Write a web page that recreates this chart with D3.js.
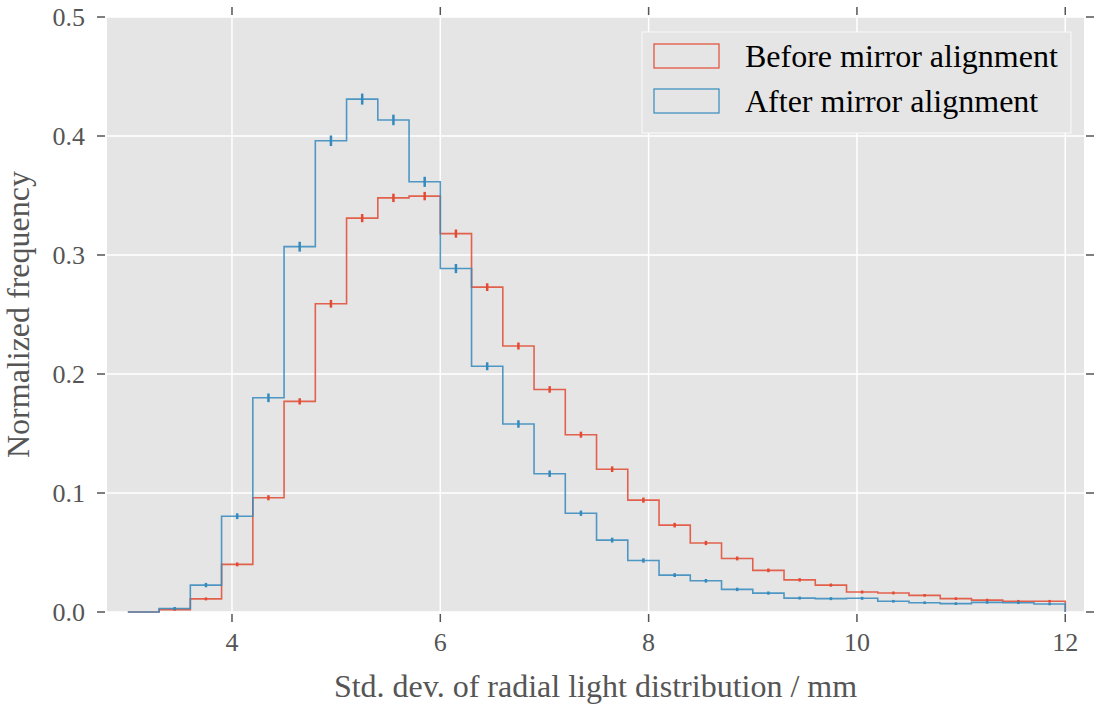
<!DOCTYPE html>
<html>
<head>
<meta charset="utf-8">
<script src="https://cdn.jsdelivr.net/npm/d3@7"></script>
<style>
    body { margin: 0; background: #fff; }
    text { font-family: "Liberation Serif", "DejaVu Serif", serif; }
</style>
</head>
<body>
<div id="chart"></div>
<script>
// Bin edges (left edge of each bin, width 0.3 mm)
const binEdges = [3.0, 3.3, 3.6, 3.9, 4.2, 4.5, 4.8, 5.1, 5.4, 5.7,
                  6.0, 6.3, 6.6, 6.9, 7.2, 7.5, 7.8, 8.1, 8.4, 8.7,
                  9.0, 9.3, 9.6, 9.9, 10.2, 10.5, 10.8, 11.1, 11.4, 11.7, 12.0];

// Normalized frequency per bin
const beforeValues = [0.000, 0.002, 0.011, 0.040, 0.096, 0.177, 0.259, 0.331, 0.348, 0.3495,
                      0.318, 0.273, 0.2235, 0.187, 0.149, 0.120, 0.094, 0.073, 0.058, 0.045,
                      0.035, 0.027, 0.0226, 0.0168, 0.016, 0.014, 0.0112, 0.010, 0.009, 0.009];
const afterValues = [0.000, 0.003, 0.0226, 0.0805, 0.180, 0.307, 0.396, 0.431, 0.4135, 0.3615,
                     0.2886, 0.2065, 0.158, 0.1162, 0.083, 0.0604, 0.0433, 0.031, 0.0262, 0.019,
                     0.0159, 0.0117, 0.0112, 0.0115, 0.009, 0.0078, 0.007, 0.0081, 0.0078, 0.0067];

// Statistical errors (half length of error bar)
const beforeErrors = [0, 0.0003, 0.0006, 0.0010, 0.0015, 0.0020, 0.0026, 0.0028, 0.0029, 0.0029,
                      0.0028, 0.0026, 0.0023, 0.0021, 0.0019, 0.0017, 0.0015, 0.0013, 0.0012, 0.0010,
                      0.0009, 0.0008, 0.0007, 0.0006, 0.0006, 0.0005, 0.0005, 0.0005, 0.0005, 0.0005];
const afterErrors = [0, 0.0006, 0.0012, 0.0018, 0.0030, 0.0035, 0.0038, 0.0040, 0.0038, 0.0036,
                     0.0032, 0.0027, 0.0025, 0.0021, 0.0016, 0.0014, 0.0012, 0.0010, 0.0009, 0.0008,
                     0.0007, 0.0006, 0.0006, 0.0006, 0.0005, 0.0005, 0.0005, 0.0005, 0.0005, 0.0004];

const xTicks = [4, 6, 8, 10, 12];
const yTicks = [0.0, 0.1, 0.2, 0.3, 0.4, 0.5];

const seriesNames = ["Before mirror alignment", "After mirror alignment"];
const seriesColors = ["#E24A33", "#348ABD"];

const width = 1096;
const height = 706;
const margin = { top: 17, right: 12, bottom: 94, left: 107 };
const innerW = width - margin.left - margin.right;
const innerH = height - margin.top - margin.bottom;

const svg = d3.select("#chart").append("svg")
    .attr("width", width)
    .attr("height", height);

const g = svg.append("g")
    .attr("transform", `translate(${margin.left},${margin.top})`);

const x = d3.scaleLinear().domain([2.8, 12.18]).range([0, innerW]);
const y = d3.scaleLinear().domain([0, 0.5]).range([innerH, 0]);

// Background
g.append("rect")
    .attr("width", innerW)
    .attr("height", innerH)
    .attr("fill", "#e5e5e5");

// Grid lines
g.selectAll(".xgrid")
    .data(xTicks)
    .enter()
    .append("line")
    .attr("x1", d => x(d)).attr("x2", d => x(d))
    .attr("y1", 0).attr("y2", innerH)
    .attr("stroke", "#fff")
    .attr("stroke-width", 1.5);

g.selectAll(".ygrid")
    .data(yTicks)
    .enter()
    .append("line")
    .attr("x1", 0).attr("x2", innerW)
    .attr("y1", d => y(d)).attr("y2", d => y(d))
    .attr("stroke", "#fff")
    .attr("stroke-width", 1.5);

// Ticks on all four sides, pointing outward
const tickColor = "#555";
const tickGap = 2, tickLen = 8;

g.selectAll(".tb")
    .data(xTicks)
    .enter()
    .append("line")
    .attr("x1", d => x(d)).attr("x2", d => x(d))
    .attr("y1", innerH + tickGap).attr("y2", innerH + tickGap + tickLen)
    .attr("stroke", tickColor).attr("stroke-width", 1.5);
g.selectAll(".tt")
    .data(xTicks)
    .enter()
    .append("line")
    .attr("x1", d => x(d)).attr("x2", d => x(d))
    .attr("y1", -tickGap).attr("y2", -tickGap - tickLen)
    .attr("stroke", tickColor).attr("stroke-width", 1.5);
g.selectAll(".tl")
    .data(yTicks)
    .enter()
    .append("line")
    .attr("x1", -tickGap).attr("x2", -tickGap - tickLen)
    .attr("y1", d => y(d)).attr("y2", d => y(d))
    .attr("stroke", tickColor).attr("stroke-width", 1.5);
g.selectAll(".tr")
    .data(yTicks)
    .enter()
    .append("line")
    .attr("x1", innerW + tickGap).attr("x2", innerW + tickGap + tickLen)
    .attr("y1", d => y(d)).attr("y2", d => y(d))
    .attr("stroke", tickColor).attr("stroke-width", 1.5);

// Tick labels
g.selectAll(".xlabel")
    .data(xTicks)
    .enter()
    .append("text")
    .attr("x", d => x(d))
    .attr("y", innerH + 39)
    .attr("text-anchor", "middle")
    .attr("font-size", 26)
    .attr("fill", tickColor)
    .text(d => d);

g.selectAll(".ylabel")
    .data(yTicks)
    .enter()
    .append("text")
    .attr("x", -22)
    .attr("y", d => y(d))
    .attr("dy", "0.35em")
    .attr("text-anchor", "end")
    .attr("font-size", 26)
    .attr("fill", tickColor)
    .text(d => d3.format(".1f")(d));

// Axis titles
g.append("text")
    .attr("x", innerW / 2)
    .attr("y", innerH + 85)
    .attr("text-anchor", "middle")
    .attr("font-size", 32)
    .attr("fill", tickColor)
    .text("Std. dev. of radial light distribution / mm");

g.append("text")
    .attr("transform", `translate(${-78},${innerH / 2}) rotate(-90)`)
    .attr("text-anchor", "middle")
    .attr("font-size", 32)
    .attr("fill", tickColor)
    .text("Normalized frequency");

// Histogram steps and error bars
const allValues = [beforeValues, afterValues];
const allErrors = [beforeErrors, afterErrors];

const plot = g.append("g");

allValues.forEach((vals, s) => {
    const pts = [[binEdges[0], 0]];
    vals.forEach((v, i) => {
        pts.push([binEdges[i], v]);
        pts.push([binEdges[i + 1], v]);
    });
    pts.push([binEdges[binEdges.length - 1], 0]);

    const line = d3.line()
        .x(d => x(d[0]))
        .y(d => y(d[1]));

    plot.append("path")
        .datum(pts)
        .attr("fill", "none")
        .attr("stroke", seriesColors[s])
        .attr("stroke-width", 1.6)
        .attr("stroke-opacity", 0.85)
        .attr("d", line);

    const bars = vals.map((v, i) => ({
        c: (binEdges[i] + binEdges[i + 1]) / 2,
        v: v,
        e: allErrors[s][i]
    })).filter(d => d.v > 0);

    plot.selectAll(".err" + s)
        .data(bars)
        .enter()
        .append("line")
        .attr("x1", d => x(d.c)).attr("x2", d => x(d.c))
        .attr("y1", d => y(d.v - d.e) + 0.75)
        .attr("y2", d => y(d.v + d.e) - 0.75)
        .attr("stroke", seriesColors[s])
        .attr("stroke-width", 2.5);
});

// Legend
const legend = g.append("g")
    .attr("transform", `translate(${642 - margin.left},${32 - margin.top})`);

legend.append("rect")
    .attr("width", 429)
    .attr("height", 101)
    .attr("fill", "#e5e5e5")
    .attr("stroke", "#fafafa")
    .attr("stroke-width", 1);

seriesNames.forEach((name, i) => {
    legend.append("rect")
        .attr("x", 12)
        .attr("y", 12 + i * 45)
        .attr("width", 65)
        .attr("height", 24)
        .attr("fill", "none")
        .attr("stroke", seriesColors[i])
        .attr("stroke-width", 1.2);

    legend.append("text")
        .attr("x", 103)
        .attr("y", 24 + i * 45)
        .attr("dy", "0.35em")
        .attr("font-size", 32)
        .attr("fill", "#000")
        .text(name);
});
</script>
</body>
</html>
